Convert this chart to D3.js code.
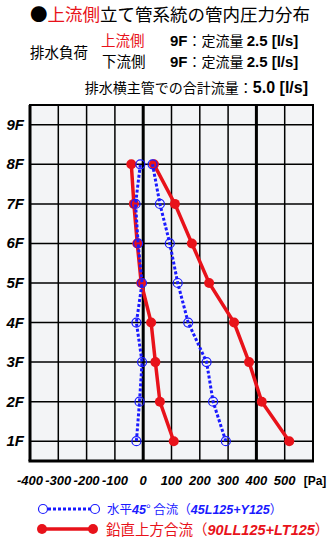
<!DOCTYPE html>
<html>
<head>
<meta charset="utf-8">
<script src="https://cdn.jsdelivr.net/npm/d3@7"></script>
<style>
  body { margin: 0; background: #fff; }
  svg { display: block; }
  .jp { font-family: "Noto Sans CJK JP", sans-serif; }
  .num { font-family: "Liberation Sans", Arial, sans-serif; font-weight: bold; }
</style>
</head>
<body>
<svg id="chart" width="332" height="539"></svg>
<script>
let floors = [1, 2, 3, 4, 5, 6, 7, 8]
let floorLabels = ['1F', '2F', '3F', '4F', '5F', '6F', '7F', '8F', '9F']
let xTicks = [-400, -300, -200, -100, 0, 100, 200, 300, 400, 500]
// 鉛直上方合流 (red) max / min pressure per floor, 1F..8F
let redMax = [516, 419, 374, 321, 233, 172, 112, 38]
let redMin = [108, 59, 43, 28, -7, -21, -33, -42]
// 水平45°合流 (blue)
let blueMax = [292, 247, 224, 159, 122, 94, 59, 33]
let blueMin = [-24, -13, -4, -24, -4, -18, -27, -10]

let svg = d3.select('#chart')
let x = d3.scaleLinear().domain([-400, 600]).range([30, 313])
let y = d3.scaleLinear().domain([0.5, 9.5]).range([461, 105])

// header texts
let title = svg.append('text').attr('class', 'jp').attr('x', 30).attr('y', 21)
    .style('font-size', '17.5px')
title.append('tspan').text('●')
title.append('tspan').attr('fill', '#e8121a').text('上流側')
title.append('tspan').text('立て管系統の管内圧力分布')

svg.append('text').attr('class', 'jp').attr('x', 30).attr('y', 58)
    .style('font-size', '14.5px').text('排水負荷')
svg.append('text').attr('class', 'jp').attr('x', 101).attr('y', 46)
    .style('font-size', '14.5px').attr('fill', '#e8121a').text('上流側')
svg.append('text').attr('class', 'jp').attr('x', 102).attr('y', 67)
    .style('font-size', '14.5px').text('下流側')

;[46, 67].forEach(yy => {
    let t = svg.append('text').attr('x', 170).attr('y', yy)
    t.append('tspan').attr('class', 'num').style('font-size', '15px').text('9F')
    t.append('tspan').attr('class', 'jp').style('font-size', '14px').text('：定流量 ')
    t.append('tspan').attr('class', 'num').style('font-size', '15px').text('2.5 [l/s]')
})
let total = svg.append('text').attr('x', 308).attr('y', 93).attr('text-anchor', 'end')
total.append('tspan').attr('class', 'jp').style('font-size', '14px').text('排水横主管での合計流量：')
total.append('tspan').attr('class', 'num').style('font-size', '16px').text('5.0 [l/s]')

// plot background
svg.append('rect').attr('x', x(-400)).attr('y', y(9.5))
    .attr('width', x(600) - x(-400)).attr('height', y(0.5) - y(9.5))
    .attr('fill', '#f3f4f6')

// grid
let grid = svg.append('g')
grid.selectAll('line.v').data(d3.range(-300, 600, 100)).join('line')
    .attr('x1', d => x(d)).attr('x2', d => x(d))
    .attr('y1', y(9.5)).attr('y2', y(0.5))
    .attr('stroke', '#000')
    .attr('stroke-width', d => (d === 0 || d === 400) ? 3 : 1.5)
grid.selectAll('line.h').data(d3.range(1, 10)).join('line')
    .attr('x1', x(-400)).attr('x2', x(600))
    .attr('y1', d => y(d)).attr('y2', d => y(d))
    .attr('stroke', '#000').attr('stroke-width', 1.5)
grid.append('rect').attr('x', x(-400)).attr('y', y(9.5))
    .attr('width', x(600) - x(-400)).attr('height', y(0.5) - y(9.5))
    .attr('fill', 'none').attr('stroke', '#000').attr('stroke-width', 2)
grid.append('line').attr('x1', x(-400)).attr('x2', x(-400))
    .attr('y1', y(9.5)).attr('y2', y(0.5)).attr('stroke', '#000').attr('stroke-width', 3)
grid.append('line').attr('x1', x(-400) - 1.5).attr('x2', x(600) + 1)
    .attr('y1', y(0.5)).attr('y2', y(0.5)).attr('stroke', '#000').attr('stroke-width', 3)

// axis labels
svg.append('g').selectAll('text').data(floorLabels).join('text')
    .attr('class', 'num').attr('x', 24).attr('y', (d, i) => y(i + 1) + 5)
    .attr('text-anchor', 'end').style('font-size', '15px').style('font-style', 'italic')
    .text(d => d)
svg.append('g').selectAll('text').data(xTicks).join('text')
    .attr('class', 'num').attr('x', d => x(d)).attr('y', 485)
    .attr('text-anchor', 'middle').style('font-size', '13px').style('font-style', 'italic')
    .text(d => d)
svg.append('text').attr('class', 'num').attr('x', 315).attr('y', 485)
    .attr('text-anchor', 'middle').style('font-size', '12px').text('[Pa]')

// series
let red = '#e8121a', blue = '#1a1aff'
let line = d3.line().x(d => x(d[0])).y(d => y(d[1]))

function drawRed(vals) {
    let pts = vals.map((v, i) => [v, floors[i]])
    svg.append('path').datum(pts).attr('d', line)
        .attr('fill', 'none').attr('stroke', red).attr('stroke-width', 3.5)
    svg.append('g').selectAll('circle').data(pts).join('circle')
        .attr('cx', d => x(d[0])).attr('cy', d => y(d[1])).attr('r', 5).attr('fill', red)
}
function drawBlue(vals) {
    let pts = vals.map((v, i) => [v, floors[i]])
    svg.append('path').datum(pts).attr('d', line)
        .attr('fill', 'none').attr('stroke', blue).attr('stroke-width', 3)
        .attr('stroke-dasharray', '3,2')
    svg.append('g').selectAll('circle').data(pts).join('circle')
        .attr('cx', d => x(d[0])).attr('cy', d => y(d[1])).attr('r', 4.5)
        .attr('fill', 'none').attr('stroke', blue).attr('stroke-width', 1.2)
}
drawRed(redMin)
drawRed(redMax)
drawBlue(blueMin)
drawBlue(blueMax)

// legend
let lg = svg.append('g')
lg.append('line').attr('x1', 43).attr('x2', 95).attr('y1', 509).attr('y2', 509)
    .attr('stroke', blue).attr('stroke-width', 3).attr('stroke-dasharray', '3,2')
lg.selectAll('circle.b').data([43, 95]).join('circle')
    .attr('cx', d => d).attr('cy', 509).attr('r', 4.5)
    .attr('fill', '#fff').attr('stroke', blue).attr('stroke-width', 1.2)
let t1 = lg.append('text').attr('x', 107).attr('y', 514).attr('fill', blue).style('font-size', '12.5px')
t1.append('tspan').attr('class', 'jp').text('水平')
t1.append('tspan').attr('class', 'num').style('font-style', 'italic').text('45')
t1.append('tspan').attr('class', 'jp').text('° 合流（')
t1.append('tspan').attr('class', 'num').style('font-style', 'italic').text('45L125+Y125')
t1.append('tspan').attr('class', 'jp').text('）')

lg.append('line').attr('x1', 42).attr('x2', 93).attr('y1', 529).attr('y2', 529)
    .attr('stroke', red).attr('stroke-width', 3.5)
lg.selectAll('circle.r').data([42, 93]).join('circle')
    .attr('cx', d => d).attr('cy', 529).attr('r', 5).attr('fill', red)
let t2 = lg.append('text').attr('x', 106).attr('y', 535).attr('fill', red)
t2.append('tspan').attr('class', 'jp').style('font-size', '14.5px').text('鉛直上方合流（')
t2.append('tspan').attr('class', 'num').style('font-size', '14.5px').style('font-style', 'italic').text('90LL125+LT125')
t2.append('tspan').attr('class', 'jp').style('font-size', '14.5px').text('）')
</script>
</body>
</html>
